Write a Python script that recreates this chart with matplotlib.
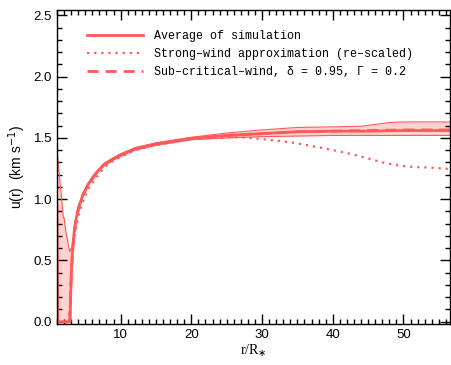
import numpy as np
import matplotlib
matplotlib.use('Agg')
import matplotlib.pyplot as plt
from matplotlib.ticker import MultipleLocator

# Average of simulation (solid)
r_avg = [1.0, 1.1, 2.85, 3.0, 3.2, 3.4, 3.7, 4.1, 4.7, 5.5, 6.5, 7.6, 9.0, 10.0, 12.0, 15.0,
         20.0, 25.0, 30.0, 35.0, 40.0, 45.0, 50.0, 56.6]
u_avg = [0.95, 0.0, 0.0, 0.35, 0.58, 0.72, 0.84, 0.94, 1.04, 1.13, 1.21, 1.28, 1.33, 1.36, 1.41, 1.45,
         1.495, 1.52, 1.535, 1.55, 1.555, 1.555, 1.56, 1.56]

# Spread of simulation (shaded band)
r_band = [1.0, 1.9, 2.0, 2.2, 2.8, 3.0, 3.2, 3.4, 3.7, 4.1, 4.7, 5.5, 6.5, 7.6, 9.0, 10.0, 12.0, 15.0,
          20.0, 25.0, 30.0, 35.0, 40.0, 44.0, 48.0, 50.0, 56.6]
u_hi = [1.40, 0.85, 0.85, 0.75, 0.57, 0.60, 0.62, 0.73, 0.85, 0.95, 1.05, 1.14, 1.22, 1.29, 1.34, 1.37, 1.42, 1.46,
        1.505, 1.54, 1.565, 1.585, 1.59, 1.595, 1.625, 1.63, 1.63]
u_lo = [0.0, 0.0, 0.0, 0.0, 0.0, 0.33, 0.56, 0.71, 0.83, 0.93, 1.03, 1.12, 1.20, 1.27, 1.32, 1.35, 1.40, 1.44,
        1.485, 1.50, 1.51, 1.515, 1.52, 1.52, 1.52, 1.52, 1.52]

# Strong-wind approximation (dotted)
r_sw = [2.7, 2.9, 3.1, 3.4, 3.7, 4.1, 4.8, 5.6, 6.6, 7.7, 9.0, 10.0, 12.0, 15.0, 20.0, 25.0, 27.0,
        30.0, 32.5, 35.0, 37.8, 40.0, 42.5, 45.0, 47.0, 49.5, 51.5, 53.8, 56.6]
u_sw = [0.0, 0.25, 0.48, 0.65, 0.77, 0.88, 1.00, 1.10, 1.18, 1.26, 1.315, 1.345, 1.40, 1.44, 1.49, 1.505, 1.505,
        1.49, 1.475, 1.455, 1.425, 1.40, 1.37, 1.333, 1.30, 1.273, 1.262, 1.257, 1.246]

# Sub-critical wind (dashed)
r_sc = [2.8, 3.0, 3.2, 3.4, 3.7, 4.1, 4.7, 5.5, 6.5, 7.6, 9.0, 10.0, 12.0, 15.0, 20.0, 25.0,
        30.0, 35.0, 40.0, 45.0, 50.0, 56.6]
u_sc = [0.0, 0.36, 0.59, 0.72, 0.84, 0.94, 1.04, 1.13, 1.21, 1.28, 1.33, 1.36, 1.41, 1.45, 1.495, 1.52,
        1.535, 1.55, 1.555, 1.56, 1.565, 1.565]

col = '#ff5a5a'
band_col = '#ffd2d2'

fig = plt.figure(figsize=(4.51, 3.65), dpi=100)
ax = fig.add_axes([0.1264, 0.112, 0.8716, 0.861])

ax.fill_between(r_band, u_lo, u_hi, color=band_col, lw=0)
ax.plot(r_band, u_hi, color=col, lw=0.8)
ax.plot(r_band, u_lo, color=col, lw=0.8)
ax.plot(r_avg, u_avg, color=col, lw=2.0, label='Average of simulation')
ax.plot(r_sw, u_sw, color=col, lw=1.6, ls=(0, (1, 2.2)),
        label='Strong\u2013wind approximation (re\u2013scaled)')
ax.plot(r_sc, u_sc, color=col, lw=2.0, ls=(0, (4, 2.5)),
        label='Sub\u2013critical\u2013wind, \u03b4 = 0.95, \u0393 = 0.2')

ax.set_xlim(1.0, 56.6)
ax.set_ylim(-0.02, 2.545)

ax.xaxis.set_major_locator(MultipleLocator(10))
ax.xaxis.set_minor_locator(MultipleLocator(1))
ax.yaxis.set_major_locator(MultipleLocator(0.5))
ax.yaxis.set_minor_locator(MultipleLocator(0.1))
ax.yaxis.set_major_formatter(matplotlib.ticker.FormatStrFormatter('%.1f'))
ax.tick_params(which='both', direction='in', top=True, right=True, width=1.0,
               labelsize=9.5, labelfontfamily='Liberation Sans')
ax.tick_params(which='major', length=7)
ax.tick_params(which='minor', length=3.5)
for s in ax.spines.values():
    s.set_linewidth(1.0)

ax.set_xlabel(r'r/R$_{\ast}$', fontsize=10, family='Liberation Serif', labelpad=1)
ax.set_ylabel(r'u(r)  (km s$^{-1}$)', fontsize=10, family='Liberation Sans', labelpad=4)

leg = ax.legend(loc='upper left', bbox_to_anchor=(0.05, 0.968), frameon=False,
                prop={'family': 'Liberation Mono', 'size': 8.4},
                handlelength=4.8, handletextpad=0.9, labelspacing=0.5)

fig.savefig('out.png', dpi=100)
